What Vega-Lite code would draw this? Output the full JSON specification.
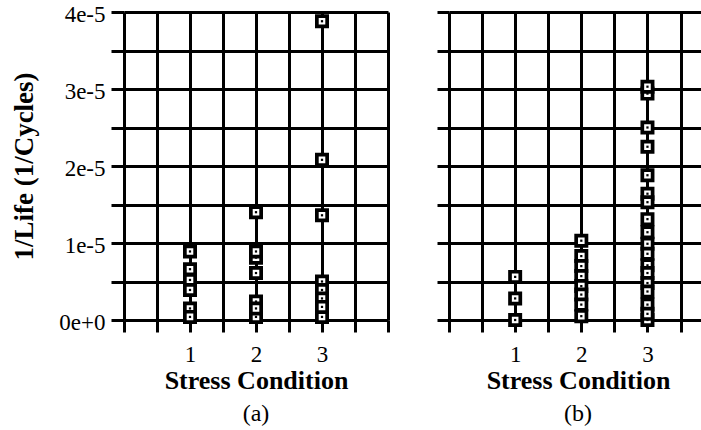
{
  "$schema": "https://vega.github.io/schema/vega-lite/v6.json",
  "padding": {"left": 10, "top": 3, "right": 0, "bottom": 0},
  "background": "white",
  "config": {
    "view": {"stroke": null},
    "font": "Liberation Serif",
    "axis": {
      "labelFont": "Liberation Serif", "titleFont": "Liberation Serif",
      "labelColor": "black", "titleColor": "black",
      "gridColor": "black", "gridOpacity": 1, "gridWidth": 3,
      "tickColor": "black", "tickWidth": 3, "domain": false,
      "labelFontSize": 23, "titleFontSize": 26, "titleFontWeight": "bold"
    },
    "title": {"font": "Liberation Serif", "fontSize": 24, "fontWeight": "normal", "orient": "bottom", "color": "black", "offset": 9},
    "concat": {"spacing": 45}
  },
  "datasets": {
    "pts": [
      {"panel": "a", "condition": 1, "life": 0.0000089},
      {"panel": "a", "condition": 1, "life": 0.0000066},
      {"panel": "a", "condition": 1, "life": 0.0000052},
      {"panel": "a", "condition": 1, "life": 0.0000039},
      {"panel": "a", "condition": 1, "life": 0.0000015},
      {"panel": "a", "condition": 1, "life": 0.0000004},
      {"panel": "a", "condition": 2, "life": 0.0000140},
      {"panel": "a", "condition": 2, "life": 0.0000081},
      {"panel": "a", "condition": 2, "life": 0.0000089},
      {"panel": "a", "condition": 2, "life": 0.0000061},
      {"panel": "a", "condition": 2, "life": 0.0000024},
      {"panel": "a", "condition": 2, "life": 0.0000004},
      {"panel": "a", "condition": 2, "life": 0.0000015},
      {"panel": "a", "condition": 3, "life": 0.0000388},
      {"panel": "a", "condition": 3, "life": 0.0000208},
      {"panel": "a", "condition": 3, "life": 0.0000136},
      {"panel": "a", "condition": 3, "life": 0.0000050},
      {"panel": "a", "condition": 3, "life": 0.0000039},
      {"panel": "a", "condition": 3, "life": 0.0000028},
      {"panel": "a", "condition": 3, "life": 0.0000004},
      {"panel": "a", "condition": 3, "life": 0.0000017},
      {"panel": "b", "condition": 1, "life": 0.0000056},
      {"panel": "b", "condition": 1, "life": 0.0000000},
      {"panel": "b", "condition": 1, "life": 0.0000028},
      {"panel": "b", "condition": 2, "life": 0.0000103},
      {"panel": "b", "condition": 2, "life": 0.0000083},
      {"panel": "b", "condition": 2, "life": 0.0000070},
      {"panel": "b", "condition": 2, "life": 0.0000057},
      {"panel": "b", "condition": 2, "life": 0.0000044},
      {"panel": "b", "condition": 2, "life": 0.0000033},
      {"panel": "b", "condition": 2, "life": 0.0000005},
      {"panel": "b", "condition": 2, "life": 0.0000020},
      {"panel": "b", "condition": 3, "life": 0.0000294},
      {"panel": "b", "condition": 3, "life": 0.0000303},
      {"panel": "b", "condition": 3, "life": 0.0000250},
      {"panel": "b", "condition": 3, "life": 0.0000225},
      {"panel": "b", "condition": 3, "life": 0.0000188},
      {"panel": "b", "condition": 3, "life": 0.0000164},
      {"panel": "b", "condition": 3, "life": 0.0000153},
      {"panel": "b", "condition": 3, "life": 0.0000131},
      {"panel": "b", "condition": 3, "life": 0.0000114},
      {"panel": "b", "condition": 3, "life": 0.0000099},
      {"panel": "b", "condition": 3, "life": 0.0000086},
      {"panel": "b", "condition": 3, "life": 0.0000071},
      {"panel": "b", "condition": 3, "life": 0.0000061},
      {"panel": "b", "condition": 3, "life": 0.0000048},
      {"panel": "b", "condition": 3, "life": 0.0000037},
      {"panel": "b", "condition": 3, "life": 0.0000000},
      {"panel": "b", "condition": 3, "life": 0.0000020},
      {"panel": "b", "condition": 3, "life": 0.0000008}
    ]
  },
  "hconcat": [
    {
      "width": 264, "height": 308,
      "title": {"text": "(a)"},
      "data": {"name": "pts"},
      "transform": [{"filter": "datum.panel == 'a'"}],
      "encoding": {
        "x": {
          "field": "condition", "type": "quantitative",
          "scale": {"domain": [0, 4], "nice": false, "zero": false},
          "axis": {
            "values": [0, 0.5, 1, 1.5, 2, 2.5, 3, 3.5, 4],
            "labelExpr": "datum.value == 1 ? '1' : datum.value == 2 ? '2' : datum.value == 3 ? '3' : ''",
            "tickSize": 12, "labelPadding": 11, "title": "Stress Condition", "titlePadding": 1
          }
        },
        "y": {
          "field": "life", "type": "quantitative",
          "scale": {"domain": [0, 0.00004], "nice": false},
          "axis": {
            "values": [0, 0.000005, 0.00001, 0.000015, 0.00002, 0.000025, 0.00003, 0.000035, 0.00004],
            "labelExpr": "round(datum.value * 200000) % 2 == 0 ? format(datum.value, '.0e') : ''",
            "tickSize": 13, "labelPadding": 6, "labelOffset": 2,
            "title": "1/Life (1/Cycles)", "titlePadding": 20, "titleFontSize": 27
          }
        }
      },
      "layer": [
        {"mark": {"type": "point", "shape": "square", "size": 106, "filled": true, "fill": "white", "stroke": "black", "strokeWidth": 3.7, "opacity": 1}},
        {"mark": {"type": "point", "shape": "square", "size": 5, "filled": true, "color": "black", "opacity": 1}}
      ]
    },
    {
      "width": 258, "height": 308,
      "title": {"text": "(b)"},
      "data": {"name": "pts"},
      "transform": [{"filter": "datum.panel == 'b'"}],
      "encoding": {
        "x": {
          "field": "condition", "type": "quantitative",
          "scale": {"domain": [0, 3.9], "nice": false, "zero": false},
          "axis": {
            "values": [0, 0.5, 1, 1.5, 2, 2.5, 3, 3.5],
            "labelExpr": "datum.value == 1 ? '1' : datum.value == 2 ? '2' : datum.value == 3 ? '3' : ''",
            "tickSize": 12, "labelPadding": 11, "title": "Stress Condition", "titlePadding": 1
          }
        },
        "y": {
          "field": "life", "type": "quantitative",
          "scale": {"domain": [0, 0.00004], "nice": false},
          "axis": {
            "values": [0, 0.000005, 0.00001, 0.000015, 0.00002, 0.000025, 0.00003, 0.000035, 0.00004],
            "labels": false, "title": null, "tickSize": 12
          }
        }
      },
      "layer": [
        {"mark": {"type": "point", "shape": "square", "size": 106, "filled": true, "fill": "white", "stroke": "black", "strokeWidth": 3.7, "opacity": 1}},
        {"mark": {"type": "point", "shape": "square", "size": 5, "filled": true, "color": "black", "opacity": 1}}
      ]
    }
  ]
}
